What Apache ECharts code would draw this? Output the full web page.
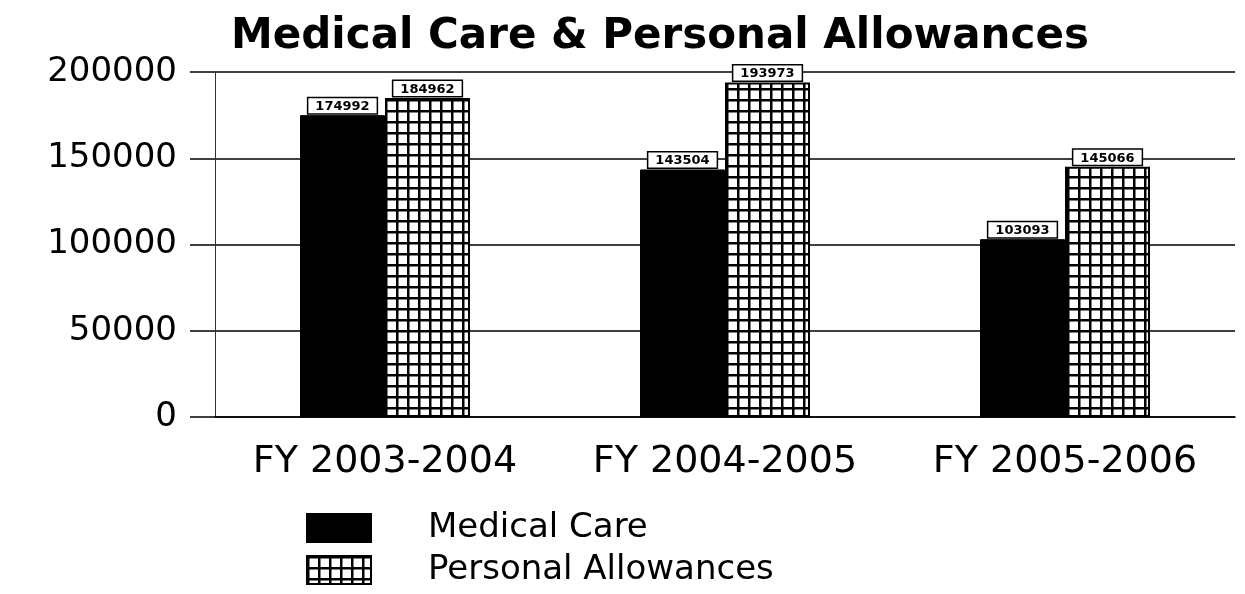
<!DOCTYPE html>
<html>
<head>
<meta charset="utf-8">
<script src="https://cdn.jsdelivr.net/npm/echarts@6/dist/echarts.min.js"></script>
<style>html,body{margin:0;padding:0;background:#fff}#c{width:1245px;height:594px}</style>
</head>
<body>
<div id="c"></div>
<script>
const categories = ['FY 2003-2004', 'FY 2004-2005', 'FY 2005-2006'];
const medicalCare = [174992, 143504, 103093];
const personalAllowances = [184962, 193973, 145066];
const seriesNames = ['Medical Care', 'Personal Allowances'];
const yTicks = [0, 50000, 100000, 150000, 200000];

function gridPattern() {
  const c = document.createElement('canvas');
  c.width = 11; c.height = 11;
  const g = c.getContext('2d');
  g.fillStyle = '#fff'; g.fillRect(0, 0, 11, 11);
  g.fillStyle = '#000';
  g.fillRect(0, 0, 2.5, 11);
  g.fillRect(0, 0, 11, 2.5);
  return c;
}

const chart = echarts.init(document.getElementById('c'), null, {renderer: 'canvas'});
const font = 'DejaVu Sans';
const labelStyle = {
  show: true, position: 'top', distance: 2,
  color: '#000', fontFamily: font, fontWeight: 'bold', fontSize: 13,
  backgroundColor: '#fff', borderColor: '#000', borderWidth: 1.5,
  padding: [2, 7, 0, 7]
};
chart.setOption({
  animation: false,
  backgroundColor: '#fff',
  title: {
    text: 'Medical Care & Personal Allowances',
    left: 226, top: 11,
    textStyle: {fontFamily: font, fontWeight: 'bold', fontSize: 42, color: '#000'}
  },
  legend: {
    orient: 'vertical', left: 306, top: 511, padding: 0,
    icon: 'rect',
    itemWidth: 64, itemHeight: 28, itemGap: 8,
    data: seriesNames,
    textStyle: {fontFamily: font, fontSize: 34, lineHeight: 34, color: '#000', padding: [0, 0, 0, 52]}
  },
  grid: {left: 215, right: 10, top: 72, bottom: 177, containLabel: false},
  xAxis: {
    type: 'category', data: categories,
    axisLine: {lineStyle: {color: '#000', width: 1.5}},
    axisTick: {alignWithLabel: true, length: 16, lineStyle: {color: '#000', width: 1.5}},
    axisLabel: {interval: 0, hideOverlap: false, margin: 26, fontFamily: font, fontSize: 38, color: '#000'}
  },
  yAxis: {
    type: 'value', min: yTicks[0], max: yTicks[yTicks.length - 1], interval: yTicks[1] - yTicks[0],
    axisLine: {show: true, lineStyle: {color: '#333', width: 1}},
    axisTick: {show: true, length: 25, lineStyle: {color: '#000', width: 1.5}},
    splitLine: {show: true, lineStyle: {color: '#000', width: 1.5}},
    axisLabel: {margin: 38, fontFamily: font, fontSize: 34, color: '#000', formatter: v => String(v)}
  },
  series: [
    {
      name: seriesNames[0], type: 'bar', data: medicalCare,
      barWidth: 85, barGap: '0%',
      itemStyle: {color: '#000', borderColor: '#000', borderWidth: 1},
      label: labelStyle
    },
    {
      name: seriesNames[1], type: 'bar', data: personalAllowances,
      barWidth: 85,
      itemStyle: {color: {image: gridPattern(), repeat: 'repeat'}, borderColor: '#000', borderWidth: 2},
      label: labelStyle
    }
  ]
});
</script>
</body>
</html>
